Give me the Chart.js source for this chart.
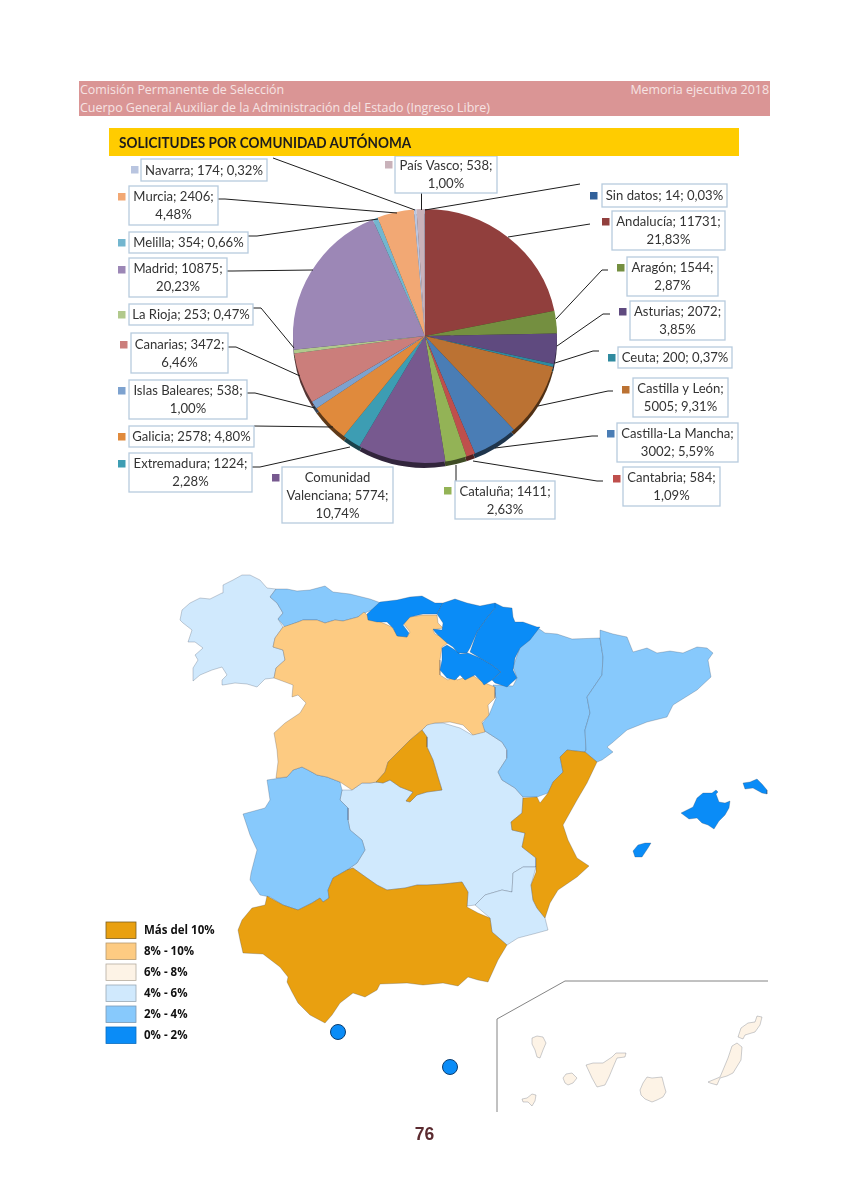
<!DOCTYPE html>
<html lang="es">
<head>
<meta charset="utf-8">
<title>Solicitudes por comunidad autónoma</title>
<script src="https://cdn.jsdelivr.net/npm/chart.js@4/dist/chart.umd.min.js"></script>
<style>
  html, body { margin: 0; background: #fff; }
  #page { position: relative; width: 849px; height: 1200px; overflow: hidden; }
  canvas { position: absolute; left: 0; }
  .bar { position: absolute; left: 79px; width: 691px; height: 17.5px; background: #da9595; color: #f6e3e3;
         font: 12.45px/17px "Open Sans", sans-serif; white-space: nowrap; }
  .bar span { position: absolute; left: 1px; }
  .bar span.r { left: auto; right: 1px; }
  #title { position: absolute; left: 109px; top: 128px; width: 630px; height: 28px; background: #ffcc00; z-index: 2;
           font: bold 15px/29px Lato, sans-serif; color: #1c1c1c; }
  #title span { position: absolute; left: 10px; white-space: nowrap; transform: scaleX(0.904); transform-origin: left center; }
  #pageNum { position: absolute; left: 0; width: 849px; top: 1123px; text-align: center;
             font: bold 17.5px/22px "Liberation Sans", sans-serif; color: #5b2b30; }
</style>
</head>
<body>
<div id="page">
  <div class="bar" style="top:81px"><span>Comisión Permanente de Selección</span><span class="r">Memoria ejecutiva 2018</span></div>
  <div class="bar" style="top:98.5px"><span>Cuerpo General Auxiliar de la Administración del Estado (Ingreso Libre)</span></div>
  <div id="title"><span>SOLICITUDES POR COMUNIDAD AUTÓNOMA</span></div>
  <canvas id="pie" width="849" height="560" style="top:0"></canvas>
  <canvas id="map" width="849" height="570" style="top:560px"></canvas>
  <div id="pageNum">76</div>
</div>
<script>
// pie data
const categories = ["Andalucía", "Aragón", "Asturias", "Ceuta", "Castilla y León", "Castilla-La Mancha", "Cantabria",
  "Cataluña", "Comunidad Valenciana", "Extremadura", "Galicia", "Islas Baleares", "Canarias", "La Rioja", "Madrid",
  "Melilla", "Murcia", "Navarra", "País Vasco", "Sin datos"];
const requests = [11731, 1544, 2072, 200, 5005, 3002, 584, 1411, 5774, 1224, 2578, 538, 3472, 253, 10875, 354, 2406, 174, 538, 14];
const shares = ["21,83%", "2,87%", "3,85%", "0,37%", "9,31%", "5,59%", "1,09%", "2,63%", "10,74%", "2,28%", "4,80%", "1,00%",
  "6,46%", "0,47%", "20,23%", "0,66%", "4,48%", "0,32%", "1,00%", "0,03%"];
const sliceColors = ["#913f3d", "#748f40", "#5f4a7f", "#2f8a9f", "#bb7233", "#4a7db5", "#bf4f4c", "#93b356", "#77598f", "#3d9db3",
  "#e08a3c", "#7da2cf", "#cb7e7b", "#b1c98c", "#9c87b6", "#73b6cf", "#f2a874", "#b9c5e0", "#c9b2ba", "#31609a"];

// label boxes: x, y, w, h, marker x, marker y
const labelBoxes = [
  [612, 211, 113, 39, 602, 218], [627, 257, 91, 39, 617, 264], [630, 301, 95, 39, 619, 308], [618, 347, 114, 21, 608, 354],
  [633, 378, 95, 39, 622, 386], [617, 423, 121, 39, 607, 430], [623, 467, 97, 39, 613, 475], [455, 481, 100, 38, 444, 487],
  [282, 467, 111, 56, 272, 474], [129, 453, 123, 39, 118, 460], [129, 426, 125, 21, 118, 433], [129, 380, 118, 39, 118, 387],
  [131, 333, 97, 40, 120, 341], [129, 304, 124, 21, 118, 311], [129, 258, 98, 39, 118, 266], [129, 232, 119, 21, 118, 239],
  [129, 186, 89, 39, 118, 193], [141, 159, 126, 22, 131, 166], [395, 156, 102, 37, 385, 161], [602, 184, 125, 23, 590, 192]
];
const leaders = [
  [[590, 224], [508, 237]], [[608, 270], [602, 270], [556, 319]], [[610, 314], [603, 314], [557, 346]],
  [[599, 351], [593, 351], [555, 363]], [[613, 391], [608, 391], [538, 406]], [[598, 436], [592, 436], [495, 448]],
  [[603, 481], [597, 481], [473, 461]], [[456, 481], [456, 465]], [], [[252, 467], [260, 467], [350, 447]],
  [[254, 426], [333, 427]], [[247, 393], [255, 393], [315, 408]], [[228, 347], [236, 347], [300, 376]],
  [[253, 308], [261, 308], [294, 348]], [[227, 271], [233, 271], [313, 270]], [[248, 236], [257, 236], [378, 219]],
  [[218, 199], [225, 199], [397, 213]], [[273, 158], [415, 210]], [[421.5, 193], [421.5, 210]], [[580, 184], [425, 210]]
];

// map outlines
const galicia = [[180,620],[182,610],[190,603],[200,598],[210,599],[222,593],[223,585],[233,580],[242,575],[250,575],[260,580],[267,588],[276,589],[270,597],[277,603],[283,613],[278,619],[283,627],[275,638],[273,647],[283,650],[285,660],[276,668],[274,678],[265,679],[257,687],[247,684],[235,683],[223,685],[222,680],[227,675],[222,667],[212,670],[200,675],[193,681],[193,668],[198,660],[195,655],[203,648],[195,642],[188,642],[192,630],[183,623]];
const asturias = [[276,589],[287,589],[297,591],[310,590],[325,586],[333,592],[350,594],[370,599],[381,603],[372,610],[367,612],[358,617],[343,621],[335,620],[325,623],[317,620],[303,620],[298,622],[285,627],[278,619],[283,613],[277,603],[270,597]];
const cantabria = [[367,614],[380,602],[397,600],[410,597],[422,596],[435,603],[443,603],[437,614],[423,614],[410,617],[403,625],[409,633],[407,637],[397,636],[393,628],[387,622],[377,622],[368,620]];
const paisVasco = [[443,603],[455,599],[467,603],[480,606],[495,603],[497,607],[495,608],[487,618],[477,632],[470,648],[467,653],[458,653],[453,647],[447,643],[438,635],[435,632],[433,629],[442,630],[443,623],[437,614]];
const navarra = [[495,603],[503,607],[512,608],[513,617],[515,622],[523,622],[537,627],[540,627],[530,640],[520,648],[515,658],[513,670],[517,678],[507,687],[495,683],[492,680],[501,672],[492,665],[480,658],[470,652],[477,632],[487,618],[495,608]];
const laRioja = [[442,648],[447,645],[455,650],[460,654],[468,653],[480,658],[492,665],[501,672],[492,680],[484,685],[482,682],[475,675],[465,680],[460,675],[455,680],[447,678],[440,670],[442,660]];
const castillaLeon = [[283,627],[298,622],[303,620],[317,620],[325,623],[335,620],[343,621],[358,617],[364,612],[370,618],[383,623],[392,627],[398,636],[407,637],[410,632],[403,623],[410,617],[423,615],[437,615],[438,623],[443,628],[433,630],[435,634],[442,637],[448,643],[442,647],[440,660],[440,675],[448,680],[455,675],[457,680],[472,675],[485,683],[495,687],[495,698],[488,705],[489,715],[482,722],[485,732],[473,735],[463,725],[450,722],[435,723],[427,725],[422,730],[410,740],[400,750],[388,762],[385,772],[377,782],[370,783],[362,783],[352,790],[340,782],[327,777],[317,775],[308,770],[302,767],[293,770],[287,777],[276,778],[278,762],[277,750],[274,733],[285,723],[300,713],[306,703],[298,695],[292,697],[293,685],[285,682],[274,678],[276,668],[285,660],[283,650],[273,647],[275,638]];
const madrid = [[422,730],[427,737],[427,747],[433,760],[438,777],[442,790],[427,792],[417,795],[410,802],[406,801],[413,792],[400,787],[390,780],[383,783],[376,782],[385,772],[388,762],[400,750],[410,740]];
const extremadura = [[267,780],[287,777],[293,770],[302,767],[308,770],[317,775],[327,777],[340,782],[342,790],[340,800],[348,808],[348,820],[350,830],[362,840],[365,850],[357,863],[347,870],[333,878],[328,890],[329,898],[323,902],[320,898],[312,903],[298,910],[283,905],[270,897],[265,896],[260,895],[250,880],[251,873],[257,850],[250,835],[243,814],[265,808],[270,800]];
const andalucia = [[238,930],[242,920],[252,908],[265,905],[267,896],[283,905],[298,910],[312,903],[320,898],[323,902],[329,898],[328,890],[333,878],[347,870],[353,868],[367,878],[377,885],[387,890],[405,888],[417,885],[427,885],[443,884],[462,882],[468,892],[467,907],[478,913],[490,918],[492,932],[507,945],[498,960],[488,982],[478,980],[468,977],[458,986],[443,983],[423,985],[407,983],[380,984],[377,990],[365,997],[353,993],[340,1003],[332,1015],[325,1023],[310,1015],[298,1003],[292,992],[287,982],[288,977],[280,967],[263,954],[243,953],[240,940]];
const castillaMancha = [[430,723],[443,723],[460,728],[472,735],[485,731],[502,742],[507,750],[507,758],[498,772],[502,780],[515,788],[523,797],[522,813],[511,822],[512,830],[525,833],[522,847],[536,858],[536,867],[523,867],[513,873],[512,892],[502,890],[485,895],[475,905],[467,906],[468,892],[462,882],[443,884],[427,885],[417,885],[405,888],[387,890],[377,885],[367,878],[353,868],[347,870],[357,863],[365,850],[362,840],[350,830],[348,820],[348,808],[340,800],[342,790],[352,790],[362,783],[370,783],[377,782],[383,783],[390,780],[400,787],[413,792],[406,801],[410,802],[417,795],[427,792],[442,790],[438,777],[433,760],[427,747],[427,737],[422,730],[427,725]];
const aragon = [[538,628],[545,633],[557,634],[572,639],[600,638],[603,657],[602,675],[587,697],[590,713],[585,730],[586,750],[585,752],[567,750],[560,757],[563,772],[553,782],[548,793],[537,797],[523,797],[515,788],[502,780],[498,772],[507,758],[507,750],[502,742],[485,731],[481,725],[489,715],[496,698],[493,685],[513,686],[517,678],[513,667],[520,647],[530,638]];
const cataluna = [[600,630],[613,634],[627,637],[633,652],[647,648],[657,653],[670,651],[683,653],[697,647],[707,648],[713,653],[708,660],[711,677],[697,690],[673,705],[667,717],[647,722],[627,730],[612,743],[607,747],[613,752],[602,760],[597,762],[585,752],[586,750],[585,730],[590,713],[587,697],[602,675],[603,657],[600,638]];
const valencia = [[567,750],[585,752],[597,762],[587,783],[577,800],[563,825],[568,840],[577,858],[589,866],[577,877],[558,890],[550,903],[545,918],[537,908],[533,900],[531,885],[536,872],[536,858],[522,847],[525,833],[512,830],[511,822],[522,813],[523,798],[537,797],[540,803],[548,793],[553,782],[563,772],[560,757]];
const murcia = [[536,867],[523,867],[513,873],[512,892],[502,890],[485,895],[475,905],[490,918],[492,932],[507,945],[518,938],[537,933],[548,930],[545,918],[537,908],[533,900],[531,885]];
const mallorca = [[681,813],[687,810],[693,807],[697,798],[703,793],[712,793],[716,790],[718,792],[716,794],[719,802],[725,803],[730,801],[729,808],[725,815],[719,821],[714,829],[708,825],[702,823],[697,818],[689,819],[685,816]];
const menorca = [[743,783],[750,782],[757,779],[762,784],[767,790],[767,794],[762,793],[753,788],[745,789]];
const ibiza = [[633,851],[638,845],[645,843],[651,843],[648,848],[642,857],[635,857]];
const laPalma = [[532,1038],[537,1036],[543,1037],[546,1043],[543,1050],[540,1058],[537,1057],[535,1050],[532,1044]];
const elHierro = [[522,1099],[527,1098],[532,1094],[536,1095],[535,1101],[532,1106],[528,1102],[523,1102]];
const laGomera = [[563,1078],[566,1074],[572,1073],[577,1078],[573,1083],[568,1085],[565,1083]];
const tenerife = [[586,1065],[593,1063],[603,1063],[612,1057],[616,1053],[626,1053],[625,1057],[617,1058],[614,1065],[609,1077],[605,1085],[597,1087],[592,1078]];
const granCanaria = [[640,1090],[643,1083],[647,1077],[652,1078],[662,1077],[664,1085],[666,1092],[663,1097],[657,1100],[652,1102],[645,1099],[641,1095]];
const fuerteventura = [[708,1082],[720,1077],[723,1070],[728,1058],[732,1046],[737,1043],[742,1047],[741,1060],[733,1073],[727,1076],[720,1078],[717,1085],[710,1083]];
const lanzarote = [[738,1037],[741,1028],[748,1023],[755,1022],[757,1016],[762,1017],[760,1025],[755,1032],[745,1035],[743,1039]];
const canaryFrame = [[497,1112],[497,1019],[565,981],[768,981]];
const ceutaMelilla = [[338,1032],[450,1067]];

const rangeLabels = ["Más del 10%", "8% - 10%", "6% - 8%", "4% - 6%", "2% - 4%", "0% - 2%"];
const rangeColors = ["#e9a010", "#fdcb82", "#fdf3e6", "#d0e9fd", "#87c9fc", "#0a8cf7"];
const rangeEdges = ["#7c5f22", "#b59a70", "#b5aca0", "#9aa8b4", "#7a9ab4", "#0a6ec0"];

const regions = [
  [castillaMancha, 3], [murcia, 3], [galicia, 3], [extremadura, 4], [asturias, 4], [aragon, 4], [cataluna, 4],
  [castillaLeon, 1], [madrid, 0], [andalucia, 0], [valencia, 0],
  [cantabria, 5], [laRioja, 5], [paisVasco, 5], [navarra, 5], [mallorca, 5], [menorca, 5], [ibiza, 5],
  [laPalma, 2], [elHierro, 2], [laGomera, 2], [tenerife, 2], [granCanaria, 2], [fuerteventura, 2], [lanzarote, 2]
];

function toPoints(list) { return list.map(p => ({ x: p[0], y: p[1] })); }

function darker(hex) {
  const n = parseInt(hex.slice(1), 16);
  const c = [n >> 16, (n >> 8) & 255, n & 255].map(v => Math.round(v * 0.42));
  return `rgb(${c[0]},${c[1]},${c[2]})`;
}

const squash = 0.962, rim = 5;

// the pie in the reference is a tilted 3D one: flatten it a little and add a dark rim
const tiltPlugin = {
  id: "tilt",
  beforeDatasetsDraw(chart) {
    const ctx = chart.ctx, arcs = chart.getDatasetMeta(0).data, a0 = arcs[0];
    ctx.save();
    ctx.translate(a0.x, a0.y);
    ctx.scale(1, squash);
    ctx.translate(-a0.x, -a0.y);
    arcs.forEach((a, i) => {
      ctx.beginPath();
      ctx.moveTo(a.x, a.y + rim);
      ctx.arc(a.x, a.y + rim, a.outerRadius, a.startAngle, a.endAngle);
      ctx.closePath();
      ctx.fillStyle = darker(sliceColors[i]);
      ctx.fill();
    });
  },
  afterDatasetsDraw(chart) { chart.ctx.restore(); }
};

function wrapLabel(ctx, text, maxW) {
  const lines = [];
  let cur = "";
  text.split(" ").forEach(word => {
    const next = cur ? cur + " " + word : word;
    if (ctx.measureText(next).width > maxW && cur) { lines.push(cur); cur = word; }
    else cur = next;
  });
  lines.push(cur);
  return lines;
}

const calloutPlugin = {
  id: "callouts",
  afterDraw(chart) {
    const ctx = chart.ctx;
    ctx.save();
    ctx.strokeStyle = "#1d1d1d";
    ctx.lineWidth = 1;
    leaders.forEach(line => {
      if (!line.length) return;
      ctx.beginPath();
      line.forEach((p, i) => i ? ctx.lineTo(p[0], p[1]) : ctx.moveTo(p[0], p[1]));
      ctx.stroke();
    });
    ctx.font = "13.1px Lato, sans-serif";
    ctx.textAlign = "center";
    ctx.textBaseline = "middle";
    categories.forEach((name, i) => {
      const [x, y, w, h, mx, my] = labelBoxes[i];
      ctx.fillStyle = "#fff";
      ctx.strokeStyle = "#b7cbde";
      ctx.lineWidth = 1.3;
      ctx.fillRect(x, y, w, h);
      ctx.strokeRect(x, y, w, h);
      ctx.fillStyle = sliceColors[i];
      ctx.fillRect(mx, my, 7.5, 7.5);
      ctx.fillStyle = "#333";
      const lines = wrapLabel(ctx, `${name}; ${requests[i]}; ${shares[i]}`, w - 2);
      const top = y + h / 2 - (lines.length - 1) * 9;
      lines.forEach((t, k) => ctx.fillText(t, x + w / 2, top + k * 18 + 0.5));
    });
    ctx.restore();
  }
};

new Chart(document.getElementById("pie"), {
  type: "pie",
  data: {
    labels: categories,
    datasets: [{ data: requests, backgroundColor: sliceColors, borderWidth: 0 }]
  },
  options: {
    responsive: false,
    animation: false,
    layout: { padding: { top: 204, bottom: 92, left: 1, right: 0 } },
    plugins: { legend: { display: false }, tooltip: { enabled: false } }
  },
  plugins: [tiltPlugin, calloutPlugin]
});

const mapLegend = {
  id: "mapLegend",
  afterDraw(chart) {
    const ctx = chart.ctx;
    const x = chart.scales.x, y = chart.scales.y;
    ctx.save();
    ctx.font = "bold 11.5px 'Open Sans', sans-serif";
    ctx.textBaseline = "middle";
    rangeLabels.forEach((t, i) => {
      const top = y.getPixelForValue(922 + i * 21);
      const left = x.getPixelForValue(106);
      ctx.fillStyle = rangeColors[i];
      ctx.fillRect(left, top, 30, 16.5);
      ctx.strokeStyle = rangeEdges[i];
      ctx.lineWidth = 0.8;
      ctx.strokeRect(left, top, 30, 16.5);
      ctx.fillStyle = "#111";
      ctx.fillText(t, left + 38, top + 8.5);
    });
    ctx.restore();
  }
};

const mapDatasets = [
  {
    data: toPoints(ceutaMelilla), showLine: false, pointRadius: 7.5, pointBorderWidth: 1,
    pointBackgroundColor: rangeColors[5], pointBorderColor: "#0b3c6e"
  },
  { data: toPoints(canaryFrame), showLine: true, pointRadius: 0, borderColor: "#777", borderWidth: 0.9, fill: false }
];
regions.slice().reverse().forEach(([shape, level]) => {
  mapDatasets.push({
    data: toPoints(shape.concat([shape[0]])),
    showLine: true,
    pointRadius: 0,
    tension: 0,
    fill: "shape",
    backgroundColor: rangeColors[level],
    borderColor: "rgba(50,60,80,0.42)",
    borderWidth: 0.6
  });
});

new Chart(document.getElementById("map"), {
  type: "scatter",
  data: { datasets: mapDatasets },
  options: {
    responsive: false,
    animation: false,
    layout: { padding: 0, autoPadding: false },
    scales: {
      x: { type: "linear", display: false, min: 0, max: 849 },
      y: { type: "linear", display: false, min: 560, max: 1130, reverse: true }
    },
    plugins: { legend: { display: false }, tooltip: { enabled: false } }
  },
  plugins: [mapLegend]
});
</script>
</body>
</html>
